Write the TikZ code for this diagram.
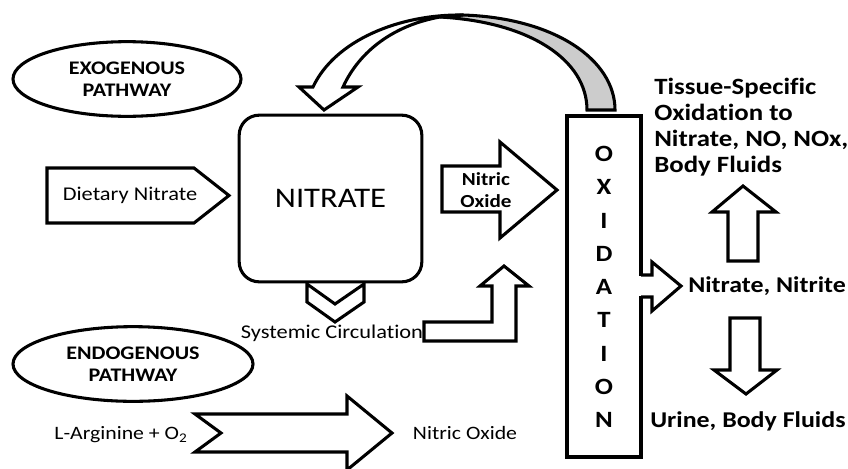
\documentclass[tikz,border=0pt]{standalone}
\usepackage{fontspec}
\setmainfont{Carlito}[FakeStretch=1.15, Ligatures={NoCommon}]
\usetikzlibrary{shapes.geometric}

\tikzset{
  pathway/.style={ellipse, draw, line width=2.3pt, inner sep=0pt, align=center,
    font=\fontsize{14.4}{16.8}\selectfont\bfseries},
  blockarrow/.style={draw, fill=white, line width=2.3pt, line join=miter},
  plain/.style={inner sep=0pt, font=\fontsize{14.2}{16}\selectfont},
  boldlabel/.style={inner sep=0pt, align=left, font=\fontsize{16.9}{19.5}\selectfont\bfseries}
}

\begin{document}
\begin{tikzpicture}[x=0.75pt, y=-0.75pt]
  \useasboundingbox[fill=white] (0,0) rectangle (848,468);
  \clip (0,0) rectangle (848,468);

  % pathway ellipses
  \node[pathway, minimum width=171pt, minimum height=56pt] (exo) at (127,79) {EXOGENOUS\\PATHWAY};
  \node[pathway, minimum width=180pt, minimum height=56pt] (endo) at (133,364) {ENDOGENOUS\\PATHWAY};

  % nitrate pool
  \node[draw, line width=2.3pt, rounded corners=15pt, minimum width=137pt, minimum height=125pt,
    font=\fontsize{21.3}{24}\selectfont] (nitrate) at (330.5,198.5) {NITRATE};

  % oxidation column
  \node[draw, line width=2.3pt, minimum width=55.5pt, minimum height=255.75pt] (oxbox) at (604,286.5) {};
  \foreach \l [count=\i] in {O,X,I,D,A,T,I,O,N}{
    \node[inner sep=0pt, font=\fontsize{17.5}{20}\selectfont\bfseries] (ox\i) at (604,{154+33.25*(\i-1)}) {\l};
  }

  % dietary nitrate tag
  \draw[blockarrow] (47,168) -- (194,168) -- (229,195.5) -- (194,223) -- (47,223) -- cycle;
  \node[plain, font=\fontsize{14.6}{16}\selectfont] (diet) at (130,195) {Dietary Nitrate};

  % chevron under the nitrate box
  \draw[blockarrow] (307,284) -- (307,302) -- (335,322) -- (364,302) -- (364,284) -- (335,304) -- cycle;
  \node[plain, font=\fontsize{14.6}{16}\selectfont] (circ) at (332,333) {Systemic Circulation};

  % bent arrow up from circulation
  \draw[blockarrow] (424,322) -- (492,322) -- (492,286) -- (480,286) -- (504,266) -- (529,286)
    -- (516,286) -- (516,341) -- (424,341) -- cycle;

  % nitric oxide arrow into oxidation
  \draw[blockarrow] (442,166) -- (500,166) -- (500,142) -- (557,190) -- (500,238) -- (500,212)
    -- (442,212) -- cycle;
  \node[inner sep=0pt, align=center, font=\fontsize{13.8}{17}\selectfont\bfseries] (no) at (486,190) {Nitric\\Oxide};

  % recycling arrow over the top
  \draw[blockarrow, fill=gray!40] (440,17) .. controls (530,22) and (587,60) .. (587,110) -- (615,110)
    .. controls (615,60) and (555,18) .. (463,15) -- cycle;
  \draw[blockarrow] (299,87) -- (324,110) -- (358,87) -- (343,87) .. controls (360,50) and (395,25) .. (440,17)
    -- (463,15) .. controls (400,14) and (335,40) .. (313,87) -- cycle;

  % arrow out of oxidation
  \fill[white] (639,276) rectangle (645,296);
  \draw[line width=2.3pt, line join=miter, fill=white] (641,275) -- (652,275) -- (652,262) -- (681,286)
    -- (652,311) -- (652,297) -- (641,297);
  \node[boldlabel, anchor=west] (nn) at (688,286) {Nitrate, Nitrite};

  % up and down arrows
  \draw[blockarrow] (728,261) -- (728,212) -- (712,212) -- (743,186) -- (776,212) -- (758,212) -- (758,261) -- cycle;
  \draw[blockarrow] (730,318) -- (760,318) -- (760,370) -- (777,370) -- (746,394) -- (714,370) -- (730,370) -- cycle;
  \node[boldlabel, anchor=west, font=\fontsize{17.5}{19.5}\selectfont\bfseries] (tissue) at (654,127.5)
    {Tissue-Specific\\Oxidation to\\Nitrate, NO, NOx,\\Body Fluids};
  \node[boldlabel, anchor=west] (urine) at (650,421) {Urine, Body Fluids};

  % endogenous route
  \node[plain] (arg) at (121,435) {L-Arginine + O\textsubscript{2}};
  \draw[blockarrow] (195,414) -- (347,414) -- (347,396) -- (392,433) -- (347,470) -- (347,452)
    -- (195,452) -- (221,433) -- cycle;
  \node[plain] (noend) at (465,433) {Nitric Oxide};
\end{tikzpicture}
\end{document}
